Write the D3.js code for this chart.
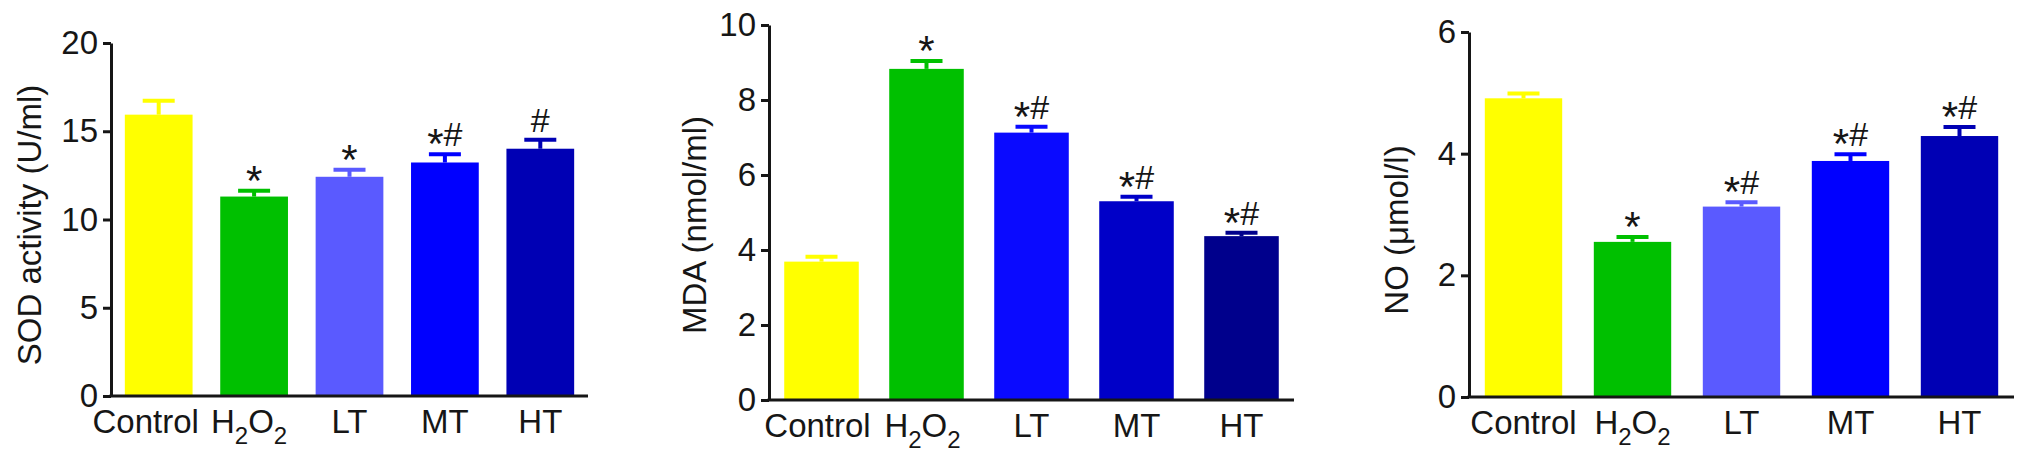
<!DOCTYPE html>
<html><head><meta charset="utf-8">
<script src="https://cdn.jsdelivr.net/npm/d3@7"></script>
<style>
body{margin:0;background:#fff}
svg{display:block}
text{font-family:"Liberation Sans",Arial,Helvetica,sans-serif;fill:#161616}
</style>
</head><body>
<svg id="chart" width="2032" height="458"></svg>
<script>
// ---- data ----
const categories = ["Control", "H2O2", "LT", "MT", "HT"];

const sodValues = [15.94, 11.30, 12.42, 13.23, 14.01];
const sodErrors = [0.79, 0.33, 0.40, 0.46, 0.51];
const sodMarks  = ["", "*", "*", "*#", "#"];
const sodTicks  = [0, 5, 10, 15, 20];

const mdaValues = [3.69, 8.83, 7.13, 5.30, 4.37];
const mdaErrors = [0.13, 0.21, 0.16, 0.12, 0.09];
const mdaMarks  = ["", "*", "*#", "*#", "*#"];
const mdaTicks  = [0, 2, 4, 6, 8, 10];

const noValues = [4.91, 2.55, 3.13, 3.88, 4.29];
const noErrors = [0.08, 0.08, 0.07, 0.11, 0.15];
const noMarks  = ["", "*", "*#", "*#", "*#"];
const noTicks  = [0, 2, 4, 6];

const colorsSOD = ["#ffff00", "#00c000", "#5a5aff", "#0000ff", "#0000b4"];
const colorsMDA = ["#ffff00", "#00c000", "#0a0aff", "#0000c8", "#00008c"];
const colorsNO  = ["#ffff00", "#00c000", "#5a5aff", "#0000ff", "#0000b4"];

// ---- layout ----
const panels = [
  {values: sodValues, errors: sodErrors, marks: sodMarks, ticks: sodTicks, colors: colorsSOD,
   label: "SOD activity (U/ml)", left: 111, right: 588, top: 43, bottom: 396, labelX: 41, labelY: 225,
   shift: [-13, -5, 0, 0, 0]},
  {values: mdaValues, errors: mdaErrors, marks: mdaMarks, ticks: mdaTicks, colors: colorsMDA,
   label: "MDA (nmol/ml)", left: 769, right: 1294, top: 25, bottom: 400, labelX: 706, labelY: 225,
   shift: [-4, -4, 0, 0, 0]},
  {values: noValues, errors: noErrors, marks: noMarks, ticks: noTicks, colors: colorsNO,
   label: "NO (\u03bcmol/l)", left: 1469, right: 2014, top: 32, bottom: 397, labelX: 1408, labelY: 230,
   shift: [0, 0, 0, 0, 0]}
];

const svg = d3.select("#chart");
const FS = 33;

panels.forEach(p => {
  const x = d3.scaleBand().domain(categories).range([p.left, p.right])
    .paddingInner(0.29).paddingOuter(0.145);
  const y = d3.scaleLinear().domain([0, d3.max(p.ticks)]).range([p.bottom, p.top]);
  const g = svg.append("g");
  const cx = d => x(d) + x.bandwidth() / 2;

  // bars
  g.selectAll("rect.bar").data(categories).join("rect")
    .attr("class", "bar")
    .attr("x", d => x(d))
    .attr("y", (d, i) => y(p.values[i]))
    .attr("width", x.bandwidth())
    .attr("height", (d, i) => y(0) - y(p.values[i]))
    .attr("fill", (d, i) => p.colors[i]);

  // error stems
  g.selectAll("line.stem").data(categories).join("line")
    .attr("class", "stem")
    .attr("x1", cx).attr("x2", cx)
    .attr("y1", (d, i) => y(p.values[i]))
    .attr("y2", (d, i) => y(p.values[i] + p.errors[i]))
    .attr("stroke", (d, i) => p.colors[i])
    .attr("stroke-width", 4);

  // error caps
  g.selectAll("line.cap").data(categories).join("line")
    .attr("class", "cap")
    .attr("x1", d => cx(d) - 16)
    .attr("x2", d => cx(d) + 16)
    .attr("y1", (d, i) => y(p.values[i] + p.errors[i]))
    .attr("y2", (d, i) => y(p.values[i] + p.errors[i]))
    .attr("stroke", (d, i) => p.colors[i])
    .attr("stroke-width", 4);

  // significance marks
  g.selectAll("text.mark").data(categories).join("text")
    .attr("class", "mark")
    .attr("x", cx)
    .attr("y", (d, i) => y(p.values[i] + p.errors[i]) - 8)
    .attr("text-anchor", "middle")
    .attr("font-size", 34)
    .each(function(d, i) {
      const t = d3.select(this);
      let shifted = false;
      for (const ch of p.marks[i]) {
        const s = t.append("tspan").text(ch);
        if (ch === "*") {
          s.attr("font-size", 42).attr("dy", shifted ? 0 : 12);
          shifted = true;
        } else {
          s.attr("font-size", 34).attr("dy", shifted ? -12 : 0);
          shifted = false;
        }
      }
    });

  // y axis
  const yAxis = d3.axisLeft(y).tickValues(p.ticks).tickSize(8).tickSizeOuter(0)
    .tickPadding(5).tickFormat(d3.format("d"));
  const ya = g.append("g").attr("transform", `translate(${p.left},0)`).call(yAxis);
  ya.select(".domain").attr("stroke", "#161616").attr("stroke-width", 3);
  ya.selectAll(".tick line").attr("stroke", "#161616").attr("stroke-width", 3);
  ya.selectAll(".tick text").attr("font-size", FS).attr("fill", "#161616")
    .attr("font-family", '"Liberation Sans",Arial,sans-serif');

  // x axis
  const xAxis = d3.axisBottom(x).tickSize(0).tickSizeOuter(0).tickPadding(14);
  const xa = g.append("g").attr("transform", `translate(0,${p.bottom})`).call(xAxis);
  xa.select(".domain").attr("stroke", "#161616").attr("stroke-width", 3)
    .attr("d", `M${p.left - 1.5},0H${p.right}`);
  xa.selectAll(".tick text")
    .attr("font-size", FS).attr("fill", "#161616")
    .attr("font-family", '"Liberation Sans",Arial,sans-serif')
    .attr("dx", (d, i) => p.shift[i])
    .each(function(d) {
      const t = d3.select(this);
      if (d === "H2O2") {
        t.text(null);
        t.append("tspan").text("H");
        t.append("tspan").text("2").attr("font-size", 24).attr("dy", 11);
        t.append("tspan").text("O").attr("font-size", FS).attr("dy", -11);
        t.append("tspan").text("2").attr("font-size", 24).attr("dy", 11);
      }
    });

  // y label
  g.append("text")
    .attr("transform", `translate(${p.labelX},${p.labelY}) rotate(-90)`)
    .attr("text-anchor", "middle")
    .attr("font-size", FS)
    .text(p.label);
});
</script>
</body></html>
